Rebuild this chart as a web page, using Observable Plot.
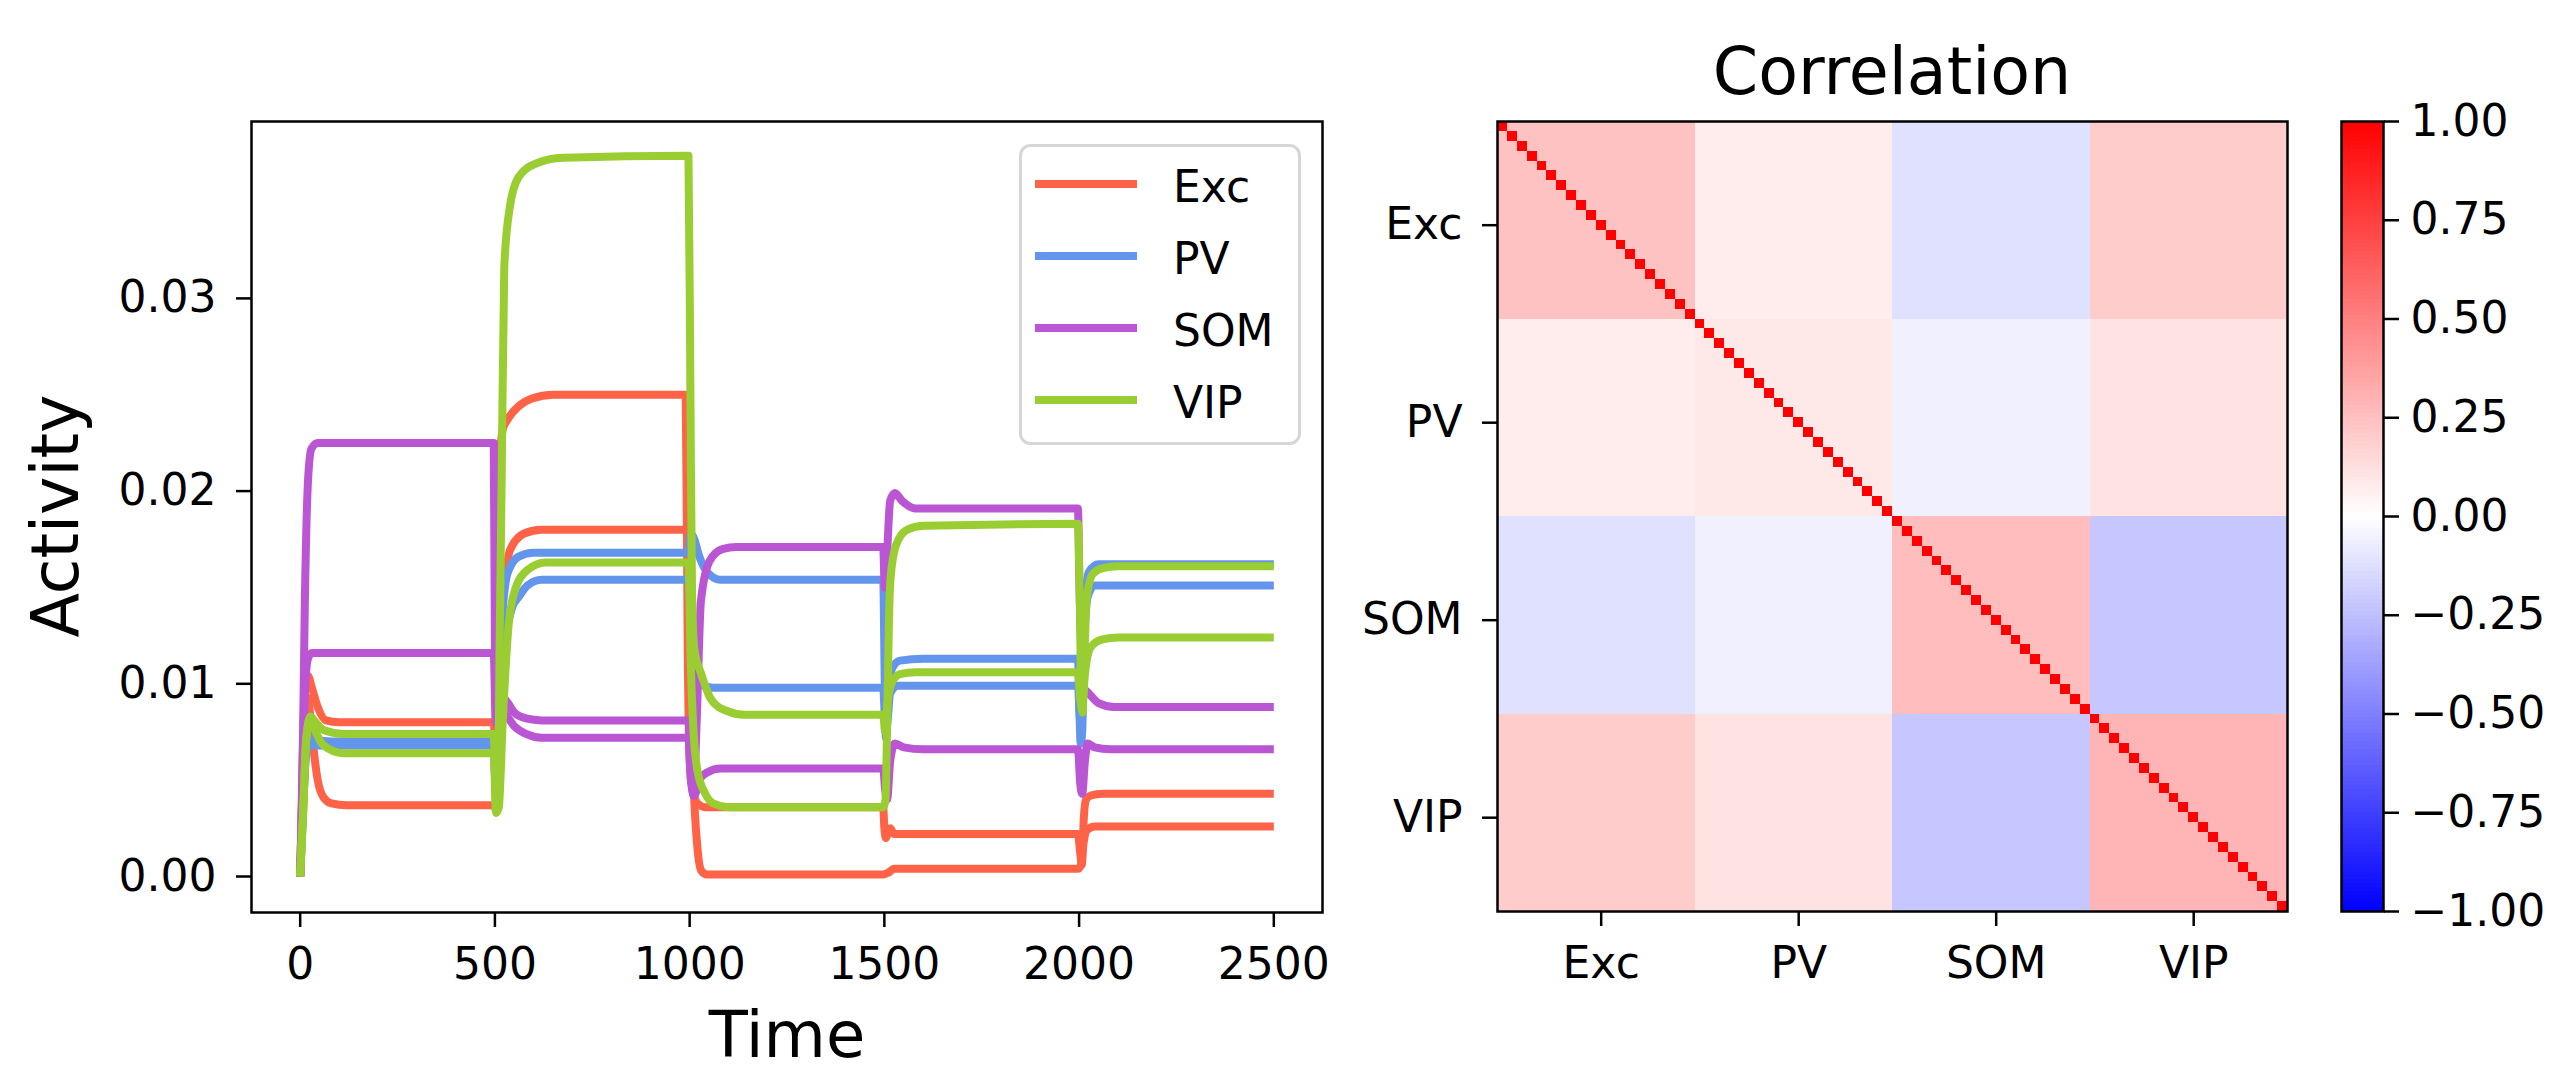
<!DOCTYPE html>
<html><head><meta charset="utf-8">
<script src="https://cdn.jsdelivr.net/npm/d3@7"></script>
<script src="https://cdn.jsdelivr.net/npm/@observablehq/plot@0.6"></script>
<style>
html,body{margin:0;padding:0;background:#fff;}
#root{position:relative;width:2556px;height:1072px;overflow:hidden;font-family:"DejaVu Sans",sans-serif;background:#fff;}
#root svg{position:absolute;}
</style></head><body><div id="root"></div>
<script>
// ---------- data ----------
const types = ["Exc", "PV", "SOM", "VIP"];
const typeColors = ["#FF6347", "#6495ED", "#BA55D3", "#9ACD32"];
const timeTicks = [0, 500, 1000, 1500, 2000, 2500];
const activityTicks = [0, 0.01, 0.02, 0.03];

const exc1 = [[0,0],[6,0.006],[12,0.0095],[20,0.0104],[30,0.0098],[45,0.0088],[66,0.0081],[100,0.0080],[497,0.0080],[502,0.0060],[508,0.0140],[514,0.0220],[520,0.0232],[532,0.0237],[561,0.0244],[595,0.0248],[650,0.0250],[990,0.0250],[995,0.0120],[1000,0.0060],[1008,0.0045],[1020,0.0038],[1040,0.0036],[1497,0.0036],[1500,0.0025],[1504,0.0020],[1508,0.0022],[1515,0.0025],[1525,0.0022],[1560,0.0022],[1997,0.0022],[2003,0.0012],[2007,0.0006],[2012,0.0030],[2018,0.0040],[2030,0.0042],[2060,0.0043],[2500,0.0043]];
const exc2 = [[0,0],[6,0.005],[12,0.0085],[18,0.0093],[25,0.0085],[35,0.0065],[45,0.0050],[60,0.0041],[80,0.0038],[120,0.0037],[497,0.0037],[502,0.0035],[508,0.0080],[515,0.0130],[530,0.0160],[538,0.0169],[575,0.0178],[620,0.0180],[997,0.0180],[1002,0.0120],[1010,0.0050],[1020,0.0015],[1030,0.0003],[1045,0.0001],[1497,0.0001],[1510,0.0002],[1525,0.0004],[1560,0.0004],[1997,0.0004],[2005,0.0006],[2012,0.0018],[2020,0.0024],[2040,0.0026],[2500,0.0026]];
const pv1 = [[0,0],[8,0.0040],[15,0.0065],[25,0.0072],[40,0.0071],[80,0.0070],[497,0.0070],[502,0.0045],[506,0.0050],[515,0.0120],[532,0.0157],[561,0.0166],[600,0.0168],[997,0.0168],[1003,0.0178],[1010,0.0176],[1025,0.0166],[1045,0.0158],[1080,0.0154],[1497,0.0154],[1501,0.0100],[1504,0.0072],[1510,0.0095],[1520,0.0108],[1540,0.0112],[1600,0.0113],[1997,0.0113],[2001,0.0085],[2004,0.0069],[2008,0.0075],[2015,0.0140],[2025,0.0158],[2050,0.0162],[2500,0.0162]];
const pv2 = [[0,0],[8,0.0038],[15,0.0062],[25,0.0069],[40,0.0068],[497,0.0068],[502,0.0045],[508,0.0055],[520,0.0110],[545,0.0140],[561,0.0145],[583,0.0151],[620,0.0154],[997,0.0154],[1003,0.0130],[1012,0.0110],[1030,0.0100],[1060,0.0098],[1497,0.0098],[1502,0.0080],[1506,0.0078],[1515,0.0095],[1535,0.0099],[1997,0.0099],[2002,0.0082],[2005,0.0078],[2012,0.0120],[2022,0.0145],[2040,0.0151],[2500,0.0151]];
const som1 = [[0,0],[5,0.0040],[12,0.0143],[20,0.0205],[29,0.0222],[45,0.0225],[497,0.0225],[500,0.0120],[504,0.0085],[510,0.0086],[520,0.0093],[530,0.0091],[550,0.0085],[580,0.0082],[620,0.0081],[997,0.0081],[1003,0.0055],[1010,0.0042],[1018,0.0080],[1029,0.0143],[1052,0.0164],[1086,0.0170],[1120,0.0171],[1497,0.0171],[1501,0.0150],[1505,0.0160],[1515,0.0195],[1527,0.0199],[1545,0.0195],[1580,0.0191],[1997,0.0191],[2001,0.0150],[2005,0.0120],[2012,0.0098],[2025,0.0095],[2050,0.0090],[2090,0.0088],[2500,0.0088]];
const som2 = [[0,0],[5,0.0040],[12,0.0095],[20,0.0113],[30,0.0116],[497,0.0116],[502,0.0080],[510,0.0088],[525,0.0085],[550,0.0078],[580,0.0074],[620,0.0072],[997,0.0072],[1003,0.0050],[1012,0.0042],[1025,0.0050],[1045,0.0054],[1080,0.0056],[1497,0.0056],[1502,0.0045],[1507,0.0040],[1515,0.0060],[1527,0.0069],[1550,0.0067],[1600,0.0066],[1997,0.0066],[2003,0.0048],[2008,0.0043],[2015,0.0060],[2022,0.0069],[2040,0.0067],[2080,0.0066],[2500,0.0066]];
const vip1 = [[0,0],[8,0.0035],[15,0.0070],[26,0.0083],[40,0.0080],[60,0.0076],[110,0.0074],[497,0.0074],[503,0.0035],[508,0.0040],[512,0.0120],[517,0.0200],[524,0.0316],[538,0.0347],[561,0.0363],[606,0.0370],[675,0.0373],[997,0.0374],[1002,0.0250],[1006,0.0150],[1012,0.0118],[1030,0.0105],[1055,0.0092],[1094,0.0086],[1140,0.0084],[1497,0.0084],[1502,0.0075],[1508,0.0090],[1520,0.0101],[1540,0.0105],[1580,0.0106],[1997,0.0106],[2003,0.0092],[2008,0.0088],[2015,0.0105],[2030,0.0119],[2060,0.0123],[2100,0.0124],[2500,0.0124]];
const vip2 = [[0,0],[8,0.0035],[15,0.0070],[26,0.0082],[40,0.0075],[60,0.0068],[110,0.0064],[497,0.0064],[503,0.0033],[510,0.0036],[520,0.0080],[535,0.0130],[549,0.0147],[583,0.0159],[630,0.0163],[997,0.0163],[1003,0.0110],[1010,0.0075],[1020,0.0055],[1040,0.0043],[1060,0.0038],[1100,0.0036],[1497,0.0036],[1503,0.0040],[1508,0.0090],[1512,0.0135],[1516,0.0155],[1530,0.0172],[1559,0.0180],[1601,0.0182],[1997,0.0183],[2002,0.0140],[2006,0.0090],[2009,0.0085],[2013,0.0110],[2020,0.0145],[2035,0.0157],[2060,0.0160],[2100,0.0161],[2500,0.0161]];

const seriesList = [
  ["Exc 1", "Exc", exc1], ["Exc 2", "Exc", exc2],
  ["PV 1", "PV", pv1], ["PV 2", "PV", pv2],
  ["SOM 1", "SOM", som1], ["SOM 2", "SOM", som2],
  ["VIP 1", "VIP", vip1], ["VIP 2", "VIP", vip2]
];

// correlation: 20 units per group, block means, diagonal = 1
const unitsPerGroup = 20;
const blockCorr = [
  [ 0.24,  0.07, -0.12,  0.20],
  [ 0.07,  0.09, -0.06,  0.11],
  [-0.12, -0.06,  0.26, -0.22],
  [ 0.20,  0.11, -0.22,  0.29]
];
const colorbarTicks = [-1, -0.75, -0.5, -0.25, 0, 0.25, 0.5, 0.75, 1];

// ---------- build tables ----------
const rows = [];
for (const [name, type, pts] of seriesList) for (const [t, v] of pts) rows.push({series: name, type, t, v});

const nUnits = unitsPerGroup * types.length;
const idx = d3.range(nUnits);
const cells = [];
for (const i of idx) for (const j of idx) {
  const gi = Math.floor(i / unitsPerGroup), gj = Math.floor(j / unitsPerGroup);
  cells.push({i, j, v: i === j ? 1 : blockCorr[gi][gj]});
}
const cbStops = d3.range(-1, 1, 0.01);

const font = "DejaVu Sans";
const baseStyle = {fontFamily: font, fontSize: "44px", overflow: "visible", background: "transparent", color: "black"};
const bwr = {type: "linear", domain: [-1, 0, 1], range: ["#0000ff", "#ffffff", "#ff0000"], interpolate: "rgb"};

const root = document.getElementById("root");

// ---------- line chart ----------
const p1 = Plot.plot({
  width: 1340, height: 1072,
  marginLeft: 251, marginRight: 18, marginTop: 121, marginBottom: 160,
  x: {domain: [-125, 2625]},
  y: {domain: [-0.001868, 0.03918]},
  color: {domain: types, range: typeColors},
  style: baseStyle,
  marks: [
    Plot.line(rows, {x: "t", y: "v", z: "series", stroke: "type", strokeWidth: 8, curve: "monotone-x", strokeLinejoin: "round", strokeLinecap: "butt"}),
    Plot.frame({strokeWidth: 2.5}),
    Plot.axisX({ticks: timeTicks, tickFormat: "d", tickSize: 15, tickPadding: 20, fontSize: 44, strokeWidth: 2.5, label: null}),
    Plot.axisY({ticks: activityTicks, tickFormat: ".2f", tickSize: 15, tickPadding: 20, fontSize: 44, strokeWidth: 2.5, label: null})
  ]
});
p1.style.left = "0px"; p1.style.top = "0px";
root.appendChild(p1);

// ---------- heatmap ----------
const p2 = Plot.plot({
  width: 960, height: 1072,
  marginLeft: 157, marginRight: 13, marginTop: 121, marginBottom: 161,
  x: {type: "band", domain: idx, padding: 0, round: false},
  y: {type: "band", domain: idx, padding: 0, round: false},
  color: bwr,
  style: baseStyle,
  marks: [
    Plot.cell(cells, {x: "j", y: "i", fill: "v", inset: 0, shapeRendering: "crispEdges"}),
    Plot.frame({strokeWidth: 2.5}),
    Plot.axisX({ticks: [10, 30, 50, 70], tickFormat: d => types[Math.floor(d / unitsPerGroup)], tickSize: 15, tickPadding: 20, fontSize: 44, strokeWidth: 2.5, label: null}),
    Plot.axisY({ticks: [10, 30, 50, 70], tickFormat: d => types[Math.floor(d / unitsPerGroup)], tickSize: 15, tickPadding: 20, fontSize: 44, strokeWidth: 2.5, label: null})
  ]
});
p2.style.left = "1340px"; p2.style.top = "0px";
root.appendChild(p2);

// ---------- colorbar ----------
const p3 = Plot.plot({
  width: 256, height: 1072,
  marginLeft: 41, marginRight: 173, marginTop: 121, marginBottom: 161,
  x: {domain: [0, 1], axis: null},
  y: {domain: [-1, 1]},
  color: bwr,
  style: baseStyle,
  marks: [
    Plot.rect(cbStops, {x1: d => 0, x2: d => 1, y1: d => d, y2: d => d + 0.0101, fill: d => d + 0.005, shapeRendering: "crispEdges"}),
    Plot.frame({strokeWidth: 2.5}),
    Plot.axisY({anchor: "right", ticks: colorbarTicks, tickFormat: ".2f", tickSize: 15, tickPadding: 12, fontSize: 44, strokeWidth: 2.5, label: null})
  ]
});
p3.style.left = "2300px"; p3.style.top = "0px";
root.appendChild(p3);

// ---------- titles, axis labels, legend ----------
const ov = d3.select(root).append("svg")
  .attr("width", 2556).attr("height", 1072)
  .style("left", "0px").style("top", "0px")
  .attr("font-family", font);

ov.append("text").attr("x", 78).attr("y", 516).attr("transform", "rotate(-90,78,516)")
  .attr("text-anchor", "middle").attr("font-size", 65).text("Activity");
ov.append("text").attr("x", 787).attr("y", 1057).attr("text-anchor", "middle").attr("font-size", 64).text("Time");
ov.append("text").attr("x", 1892).attr("y", 94).attr("text-anchor", "middle").attr("font-size", 65).text("Correlation");

ov.append("rect").attr("x", 1020.5).attr("y", 145.5).attr("width", 279).attr("height", 298).attr("rx", 10)
  .attr("fill", "white").attr("fill-opacity", 0.8).attr("stroke", "#d6d6d6").attr("stroke-width", 3);
types.forEach((t, k) => {
  const yy = 184 + k * 72;
  ov.append("line").attr("x1", 1035).attr("x2", 1137).attr("y1", yy).attr("y2", yy)
    .attr("stroke", typeColors[k]).attr("stroke-width", 8);
  ov.append("text").attr("x", 1173).attr("y", yy + 18).attr("font-size", 44).text(t);
});
</script></body></html>
